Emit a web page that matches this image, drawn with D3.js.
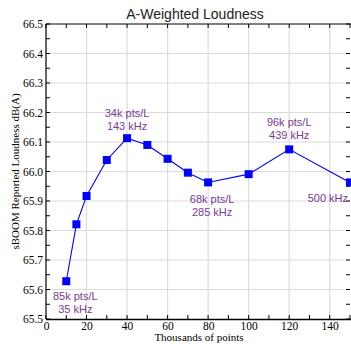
<!DOCTYPE html>
<html>
<head>
<meta charset="utf-8">
<script src="https://cdn.jsdelivr.net/npm/d3@7"></script>
<style>
  html, body { margin: 0; padding: 0; background: #fff; }
  svg { display: block; }
</style>
</head>
<body>
<div id="chart"></div>
<script>
// Loudness vs. sample count
const points = [10, 15, 20, 30, 40, 50, 60, 70, 80, 100, 120, 150];
const loudness = [65.628, 65.821, 65.917, 66.039, 66.113, 66.090, 66.043, 65.996, 65.963, 65.991, 66.075, 65.963];

// Annotated points: x value, text lines
const noteX = [10, 40, 80, 120, 150];
const noteLines = [
  ["85k pts/L", "35 kHz"],
  ["34k pts/L", "143 kHz"],
  ["68k pts/L", "285 kHz"],
  ["96k pts/L", "439 kHz"],
  ["500 kHz"]
];

const xTicks = [0, 20, 40, 60, 80, 100, 120, 140];
const yTicks = [65.5, 65.6, 65.7, 65.8, 65.9, 66.0, 66.1, 66.2, 66.3, 66.4, 66.5];

const W = 351, H = 345;
const plot = { left: 46, right: 350, top: 24, bottom: 319 };

const svg = d3.select("#chart").append("svg")
  .attr("width", W).attr("height", H);

const x = d3.scaleLinear().domain([0, 150]).range([plot.left, plot.right]);
const y = d3.scaleLinear().domain([65.5, 66.5]).range([plot.bottom, plot.top]);

// Grid
const grid = svg.append("g").attr("stroke", "#dcdcdc").attr("stroke-width", 1.2);
xTicks.filter(d => d > 0).forEach(d => {
  grid.append("line").attr("x1", x(d)).attr("x2", x(d)).attr("y1", plot.top).attr("y2", plot.bottom);
});
yTicks.filter(d => d > 65.5 && d < 66.5).forEach(d => {
  grid.append("line").attr("x1", plot.left).attr("x2", plot.right).attr("y1", y(d)).attr("y2", y(d));
});

// Axes with inward ticks
const xMinor = d3.range(0, 151, 10);
const yMinor = d3.range(0, 21).map(i => 65.5 + i * 0.05);

const axisBottom = d3.axisBottom(x).tickValues(xTicks).tickSize(0).tickPadding(3).tickFormat(d3.format("d"));
const gB = svg.append("g").attr("transform", `translate(0,${plot.bottom})`).call(axisBottom);
gB.select(".domain").remove();
gB.selectAll("text").attr("font-family", "'Liberation Serif', 'Times New Roman', serif")
  .attr("font-size", 11.5).attr("fill", "#000");

const axisLeft = d3.axisLeft(y).tickValues(yTicks).tickSize(0).tickPadding(3).tickFormat(d3.format(".1f"));
const gL = svg.append("g").attr("transform", `translate(${plot.left},0)`).call(axisLeft);
gL.select(".domain").remove();
gL.selectAll("text").attr("font-family", "'Liberation Serif', 'Times New Roman', serif")
  .attr("font-size", 11.5).attr("fill", "#000");

const tk = svg.append("g").attr("stroke", "#000").attr("stroke-width", 1);
xMinor.forEach(d => {
  tk.append("line").attr("x1", x(d)).attr("x2", x(d)).attr("y1", plot.bottom).attr("y2", plot.bottom - 4);
  tk.append("line").attr("x1", x(d)).attr("x2", x(d)).attr("y1", plot.top).attr("y2", plot.top + 4);
});
yMinor.forEach(d => {
  tk.append("line").attr("x1", plot.left).attr("x2", plot.left + 4).attr("y1", y(d)).attr("y2", y(d));
  tk.append("line").attr("x1", plot.right - 4).attr("x2", plot.right).attr("y1", y(d)).attr("y2", y(d));
});
tk.append("line").attr("x1", plot.left).attr("x2", plot.right + 2).attr("y1", plot.bottom + 0.5).attr("y2", plot.bottom + 0.5).attr("stroke-width", 1.5);
tk.append("line").attr("x1", plot.left).attr("x2", plot.right + 2).attr("y1", plot.top).attr("y2", plot.top);
tk.append("line").attr("x1", plot.left).attr("x2", plot.left).attr("y1", plot.top).attr("y2", plot.bottom).attr("stroke-width", 1.2);

// Series
const data = points.map((p, i) => ({ p, v: loudness[i] }));
svg.append("path").datum(data)
  .attr("fill", "none").attr("stroke", "#0000ff").attr("stroke-width", 1.1)
  .attr("d", d3.line().x(d => x(d.p)).y(d => y(d.v)));
svg.append("g").selectAll("rect").data(data).join("rect")
  .attr("x", d => x(d.p) - 4).attr("y", d => y(d.v) - 4)
  .attr("width", 8).attr("height", 8).attr("fill", "#0000ff");

// Annotations: [dx, dy, anchor] relative to the annotated point
const noteOffset = {
  10: [9, 15, "middle"],
  40: [0, -25, "middle"],
  80: [4, 17, "middle"],
  120: [0, -27, "middle"],
  150: [-2, 16, "end"]
};
const notes = svg.append("g").attr("font-family", "'Liberation Sans', Arial, sans-serif")
  .attr("font-size", 11).attr("fill", "#7b3a96");
noteX.forEach((nx, i) => {
  const v = loudness[points.indexOf(nx)];
  const [dx, dy, anchor] = noteOffset[nx];
  const t = notes.append("text")
    .attr("text-anchor", anchor)
    .attr("x", x(nx) + dx).attr("y", y(v) + dy);
  noteLines[i].forEach((line, j) => {
    t.append("tspan").attr("x", x(nx) + dx).attr("dy", j === 0 ? "0.35em" : "1.2em").text(line);
  });
});

// Title and axis labels
svg.append("text").attr("x", 195).attr("y", 19).attr("text-anchor", "middle")
  .attr("font-family", "'Liberation Sans', Arial, sans-serif").attr("font-size", 14)
  .attr("fill", "#222").text("A-Weighted Loudness");

svg.append("text").attr("x", 199).attr("y", 341).attr("text-anchor", "middle")
  .attr("font-family", "'Liberation Serif', 'Times New Roman', serif").attr("font-size", 11)
  .text("Thousands of points");

svg.append("text").attr("transform", `translate(18.5,${171.5}) rotate(-90)`).attr("text-anchor", "middle")
  .attr("font-family", "'Liberation Serif', 'Times New Roman', serif").attr("font-size", 11)
  .text("sBOOM Reported Loudness dB(A)");
</script>
</body>
</html>
